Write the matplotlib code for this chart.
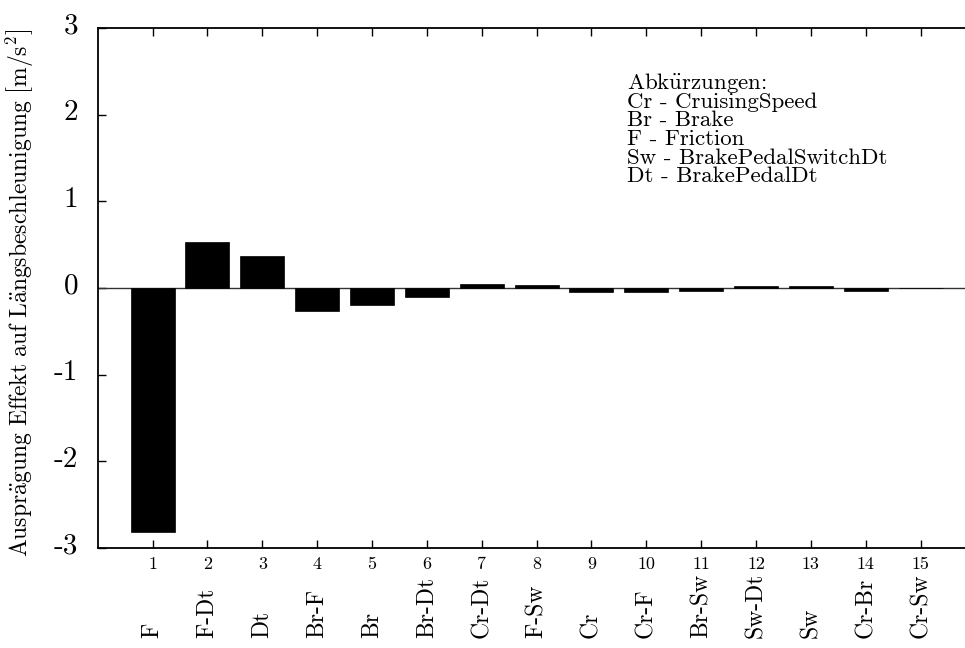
import matplotlib
matplotlib.use("Agg")
import matplotlib.pyplot as plt
import matplotlib.transforms as mtransforms

plt.rcParams['font.family'] = ['cmr10', 'DejaVu Serif']
plt.rcParams['mathtext.fontset'] = 'cm'
plt.rcParams['axes.unicode_minus'] = False

# Effect estimates, sorted by magnitude
positions = list(range(1, 16))
effects = ['F', 'F-Dt', 'Dt', 'Br-F', 'Br', 'Br-Dt', 'Cr-Dt', 'F-Sw',
           'Cr', 'Cr-F', 'Br-Sw', 'Sw-Dt', 'Sw', 'Cr-Br', 'Cr-Sw']
values = [-2.81, 0.53, 0.37, -0.265, -0.196, -0.10, 0.046, 0.035,
          -0.045, -0.045, -0.035, 0.02, 0.02, -0.03, -0.005]
yticks = [-3, -2, -1, 0, 1, 2, 3]
ytick_labels = ['-3', '-2', '-1', '0', '1', '2', '3']

legend_lines = [r"Abk$\mathrm{\ddot{u}}$rzungen:",
                "Cr - CruisingSpeed",
                "Br - Brake",
                "F - Friction",
                "Sw - BrakePedalSwitchDt",
                "Dt - BrakePedalDt"]
ylabel = (r"$\mathrm{Auspr\ddot{a}gung\ Effekt\ auf\ L\ddot{a}ngsbeschleunigung}"
          r"\ \left[\mathrm{m/s^2}\right]$")

W, H = 965, 648
fig = plt.figure(figsize=(W / 100, H / 100), dpi=100)
ax = fig.add_axes([97.7 / W, 1 - 548 / H, 1 - 97.7 / W, (548 - 28) / H])

ax.bar(positions, values, width=0.8, color='black', edgecolor='black', linewidth=0.5, zorder=3)
ax.axhline(0, color='#333333', lw=1.0, zorder=2)

ax.set_xlim(0, 15.81)
ax.set_ylim(-3, 3)

for side in ['left', 'bottom', 'top']:
    ax.spines[side].set_linewidth(1.3)
ax.spines['right'].set_visible(False)

ax.set_yticks(yticks)
ax.set_yticklabels(ytick_labels, fontsize=21)
ax.set_xticks(positions)
ax.set_xticklabels([str(p) for p in positions], fontsize=13)
ax.tick_params(axis='y', direction='in', length=6, width=1, left=True, right=False, pad=14)
ax.tick_params(axis='x', direction='in', length=6, width=1, bottom=True, top=True, pad=6)

# lift the y tick labels slightly
shift = mtransforms.ScaledTranslation(0, 5 / 100, fig.dpi_scale_trans)
for lab in ax.get_yticklabels():
    lab.set_transform(lab.get_transform() + shift)

fig.text(20 / W, 1 - 293 / H, ylabel, rotation=90, ha='center', va='center',
         fontsize=17)

# effect names under the tick numbers
trans = mtransforms.blended_transform_factory(ax.transData, fig.transFigure)
for p, name in zip(positions, effects):
    ax.text(p, 1 - 638 / H, name, transform=trans, rotation=90,
            rotation_mode='anchor', ha='left', va='center', fontsize=17)

# abbreviation key, one line at a time on an even baseline grid
for i, line in enumerate(legend_lines):
    fig.text(627 / W, 1 - (89 + 18.7 * i) / H, line, ha='left', va='baseline',
             fontsize=16.5)

fig.savefig("out.png", dpi=100)
